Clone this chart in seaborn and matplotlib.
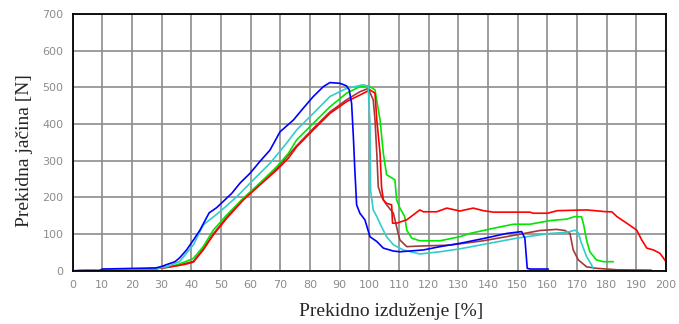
import matplotlib
matplotlib.use("Agg")
import matplotlib.pyplot as plt
import pandas as pd
import seaborn as sns
from matplotlib.ticker import MultipleLocator

# ---- data ----
blue_x = [0, 9, 10, 28, 30, 32, 34.5, 36, 38.4, 40.7, 42.9, 44.8, 46, 48.5, 51.9, 53.6, 56.4, 59.8,
          63.1, 66.5, 69.9, 74.4, 77.7, 81.1, 84.5, 86.7, 90.1, 92.3, 93.2, 94.0, 94.6, 95.1, 95.7,
          96.8, 98.5, 100.2, 102.5, 104.7, 108.1, 110.3, 118.2, 123.8, 130.5, 138.4, 146.3, 151.3,
          152.4, 153.2, 154.1, 160.3]
blue_y = [0, 0, 5, 8, 12, 18, 25, 35, 57, 84, 111, 140, 158, 172, 198, 211, 239, 266,
          298, 329, 379, 411, 443, 475, 502, 513, 511, 504, 493, 457, 366, 275, 180,
          157, 139, 93, 80, 62, 54, 52, 57, 66, 75, 88, 102, 107,
          89, 7, 5, 5]

cyan_x = [0, 10, 28, 32, 36, 40.7, 44, 49.6, 55.3, 60.9, 66.5, 72.1, 75.5, 81.1, 86.7, 92.3, 97.9,
          99.6, 100.2, 100.4, 101.3, 102.5, 104.1, 105.8, 108.1, 111.4, 117, 123.8, 130.5, 138.4,
          149.6, 160.9, 164.8, 167.6, 169.3, 170.4, 171.5, 173.2, 174.9, 175.5]
cyan_y = [0, 3, 6, 12, 25, 71, 125, 161, 202, 248, 293, 348, 384, 429, 475, 497, 507,
          503, 400, 220, 166, 148, 120, 93, 71, 57, 46, 52, 60, 72,
          89, 102, 104, 107, 111, 104, 75, 39, 16, 5]

green_x = [0, 10, 20, 22, 28, 32, 35, 38, 40.7, 44, 47.4, 51.9, 57.5, 63.1, 68.8, 72.7, 75.5, 81.1,
           86.7, 92.3, 96.8, 100.2, 101.9, 103.6, 104.7, 105.8, 108.6, 109.2, 110.3, 111.9, 112.6,
           114.3, 117, 123.8, 130.5, 133.9, 141.8, 148.5, 154.1, 160.9, 166.5, 169.3, 171.5, 172.1,
           173.2, 174.3, 176.5, 178.8, 182.2]
green_y = [0, 2, 3, 3, 6, 10, 16, 25, 34, 66, 111, 152, 198, 239, 284, 320, 357, 402,
           447, 484, 502, 502, 493, 411, 320, 262, 248, 193, 171, 148, 111,
           89, 82, 82, 93, 102, 116, 127, 127, 137, 141, 148, 147, 130,
           84, 52, 30, 25, 25]

red_x = [0, 10, 28, 32, 36, 38, 40.7, 44, 47.4, 51.9, 57.5, 63.1, 68.8, 72.7, 75.5, 81.1, 86.7,
         92.3, 96.8, 100.2, 101.9, 102.5, 103.6, 104.1, 104.7, 105.8, 107.5, 107.8, 109.2, 112.6,
         117, 118.2, 122.7, 126.1, 130.5, 135, 138.4, 141.8, 154.1, 155.2, 160, 163.4, 173.2, 180,
         181.7, 183.4, 186.7, 190.1, 191.8, 193.5, 195.7, 197.9, 200]
red_y = [0, 3, 6, 10, 15, 18, 24, 57, 98, 143, 193, 234, 275, 307, 338, 384, 429,
         461, 479, 493, 484, 411, 320, 229, 193, 184, 180, 130, 130, 139,
         166, 161, 161, 171, 163, 171, 164, 160, 160, 157, 157, 164, 166, 161,
         161, 148, 130, 111, 84, 62, 57, 48, 25]

brown_x = [0, 10, 28, 32, 36, 40.7, 44, 47.4, 51.9, 57.5, 63.1, 68.8, 75.5, 81.1, 86.7, 92.3, 96.8,
           99.6, 101.3, 101.9, 102.5, 103, 104.1, 105.8, 108.1, 109.7, 110.3, 112.6, 118, 127,
           138.4, 149.6, 157.5, 163.1, 165.9, 167.6, 168.7, 170.4, 173.2, 176.5, 183.4, 195]
brown_y = [0, 3, 6, 10, 16, 26, 60, 101, 146, 196, 238, 279, 341, 388, 433, 466, 488,
           497, 466, 411, 320, 229, 202, 180, 157, 102, 84, 66, 68, 70,
           82, 98, 110, 113, 110, 102, 57, 30, 11, 7, 3, 2]

x_ticks = list(range(0, 201, 10))
y_ticks = list(range(0, 701, 100))

series = [
    ("brown", brown_x, brown_y, "#a33a3a"),
    ("green", green_x, green_y, "#00e600"),
    ("red", red_x, red_y, "#ff0000"),
    ("cyan", cyan_x, cyan_y, "#33cccc"),
    ("blue", blue_x, blue_y, "#0000ff"),
]

sns.set_style("white")
plt.rcParams["font.family"] = ["DejaVu Sans"]

fig = plt.figure(figsize=(6.79, 3.24), dpi=100)
ax = fig.add_axes([0.107, 0.164, 0.874, 0.793])

for name, xs, ys, col in series:
    df = pd.DataFrame({"x": xs, "y": ys})
    sns.lineplot(data=df, x="x", y="y", ax=ax, color=col, linewidth=1.2,
                 sort=False, estimator=None, legend=False)

ax.set_xlim(0, 200)
ax.set_ylim(0, 700)
ax.set_xticks(x_ticks)
ax.set_yticks(y_ticks)
ax.xaxis.set_minor_locator(MultipleLocator(5))
ax.yaxis.set_minor_locator(MultipleLocator(50))
ax.grid(True, which="major", color="#8c8c8c", linewidth=1.2)
ax.set_axisbelow(True)
for s in ax.spines.values():
    s.set_color("black")
    s.set_linewidth(1.3)
ax.tick_params(which="both", direction="inout", color="black", width=1.0)
ax.tick_params(which="major", length=5, labelsize=8, labelcolor="#8c8c8c", pad=4)
ax.tick_params(which="minor", length=4)

ax.set_xlabel("Prekidno izduženje [%]", family="Liberation Serif", fontsize=14)
ax.set_ylabel("Prekidna jačina [N]", family="Liberation Serif", fontsize=14)
ax.xaxis.label.set_va("center")
ax.xaxis.set_label_coords(0.536, -0.158)
ax.yaxis.set_label_coords(-0.067, 0.47)

fig.savefig("out.png", dpi=100)
